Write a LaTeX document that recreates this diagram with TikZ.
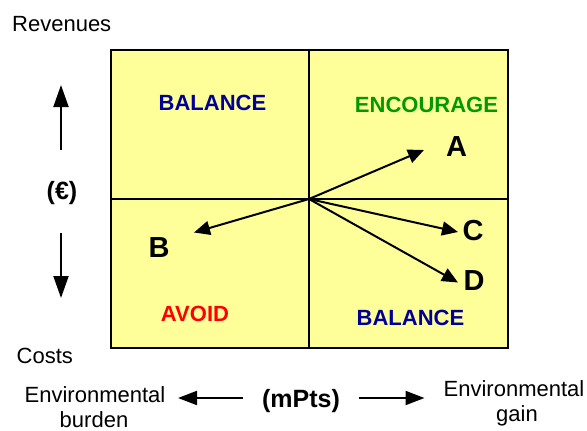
\documentclass[tikz,border=0pt]{standalone}
\usepackage{fontspec}
\setmainfont{Liberation Sans}
\usetikzlibrary{arrows.meta}
\definecolor{quadfill}{HTML}{FFFF99}
\definecolor{navyblue}{HTML}{000099}
\definecolor{encgreen}{HTML}{009900}
\definecolor{avoidred}{HTML}{FF0000}
\tikzset{
  quad/.style={draw=black, line width=2pt, fill=quadfill},
  plain/.style={inner sep=0pt, font=\fontsize{22}{26}\selectfont},
  lab/.style={inner sep=0pt, font=\fontsize{22}{26}\selectfont\bfseries},
  unitlab/.style={inner sep=0pt, font=\fontsize{25}{30}\selectfont\bfseries},
  letter/.style={inner sep=0pt, font=\fontsize{29}{34}\selectfont\bfseries},
  vec/.style={line width=2pt, -{Triangle[length=16pt,width=14pt]}},
  axisv/.style={line width=2pt, -{Triangle[length=22pt,width=15pt]}},
  axish/.style={line width=2pt, -{Triangle[length=19pt,width=14pt]}}
}
\begin{document}
\begin{tikzpicture}[x=1pt,y=-1pt]
\useasboundingbox (0,0) rectangle (587,431);
% quadrants
\draw[quad] (111,50) rectangle (508,348);
\draw[line width=2pt] (309,50) -- (309,348);
\draw[line width=2pt] (111,199) -- (508,199);
% quadrant labels
\node[lab, text=navyblue] (balTop) at (212.5,103) {BALANCE};
\node[lab, text=encgreen] (enc) at (426.5,105) {ENCOURAGE};
\node[lab, text=avoidred] (avoid) at (195,314) {AVOID};
\node[lab, text=navyblue] (balBot) at (410.5,317.5) {BALANCE};
% vectors
\coordinate (O) at (309,199);
\coordinate (tA) at (424,150);
\coordinate (tB) at (194,232.5);
\coordinate (tC) at (458,232);
\coordinate (tD) at (458,282.5);
\draw[vec] (O) -- (tA);
\draw[vec] (O) -- (tB);
\draw[vec] (O) -- (tC);
\draw[vec] (O) -- (tD);
\node[letter] (A) at (456.7,147) {A};
\node[letter] (B) at (159,247.5) {B};
\node[letter] (C) at (473,231) {C};
\node[letter] (D) at (474,281) {D};
% vertical axis
\node[plain, anchor=west] (rev) at (12,24.5) {Revenues};
\node[plain, anchor=west] (costs) at (16.5,355.5) {Costs};
\node[unitlab] (eur) at (62,193) {(€)};
\coordinate (upTail) at (61,150);
\coordinate (upTip) at (61,85);
\coordinate (dnTail) at (61,233);
\coordinate (dnTip) at (61,298);
\draw[axisv] (upTail) -- (upTip);
\draw[axisv] (dnTail) -- (dnTip);
% horizontal axis
\node[unitlab] (mpts) at (301,401) {(mPts)};
\coordinate (lTail) at (243,398);
\coordinate (lTip) at (178,398);
\coordinate (rTail) at (359,398);
\coordinate (rTip) at (424.5,398);
\draw[axish] (lTail) -- (lTip);
\draw[axish] (rTail) -- (rTip);
\node[plain, anchor=base] (envL) at (95,402.5) {Environmental};
\node[plain, anchor=base] (burden) at (94,427.5) {burden};
\node[plain, anchor=base] (envR) at (514,396.5) {Environmental};
\node[plain, anchor=base] (gain) at (517,421.5) {gain};
\end{tikzpicture}
\end{document}
